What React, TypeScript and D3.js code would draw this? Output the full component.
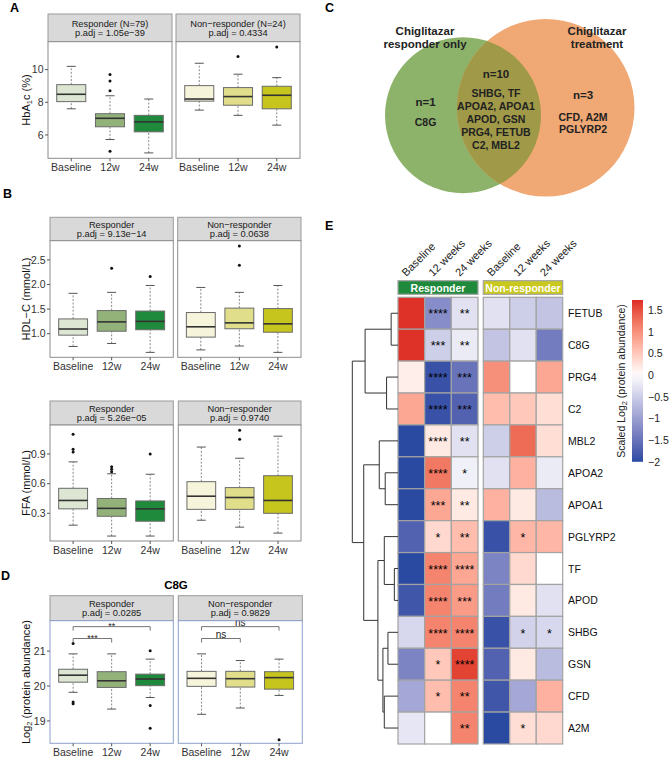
import React from "react";
import * as d3 from "d3";

const FONT = "'Liberation Sans', Arial, Helvetica, sans-serif";

// ---------- Box plot data ----------
const timepoints = ["Baseline", "12w", "24w"];
const respColors = ["#DCE6D2", "#92B27A", "#1F8A3B"];
const nonRespColors = ["#F6F4DA", "#E0DE8A", "#C6C51E"];

// [low whisker, q1, median, q3, high whisker]
const hba1cResp = [[7.6, 8.04, 8.49, 9.08, 10.2], [5.72, 6.5, 7.02, 7.3, 8.4], [4.9, 6.19, 6.8, 7.2, 8.2]];
const hba1cRespOut = [[], [9.7, 9.3, 8.7, 5.0], []];
const hba1cNon = [[7.52, 8.07, 8.2, 9.02, 10.39], [7.2, 7.82, 8.35, 8.9, 9.72], [6.6, 7.6, 8.43, 8.98, 9.51]];
const hba1cNonOut = [[], [10.8], [11.39]];

const hdlResp = [[0.74, 0.97, 1.095, 1.3, 1.82], [0.8, 1.05, 1.24, 1.47, 1.84], [0.62, 1.08, 1.25, 1.46, 1.98]];
const hdlRespOut = [[], [2.33], [2.16]];
const hdlNon = [[0.67, 0.93, 1.14, 1.43, 1.94], [0.75, 1.1, 1.22, 1.52, 1.84], [0.62, 1.03, 1.2, 1.51, 1.98]];
const hdlNonOut = [[], [2.78, 2.39], []];

const ffaResp = [[0.18, 0.345, 0.43, 0.553, 0.82], [0.07, 0.27, 0.35, 0.45, 0.7], [0.07, 0.22, 0.345, 0.425, 0.695]];
const ffaRespOut = [[1.1, 0.947, 0.92], [0.772, 0.745, 0.72], [0.9]];
const ffaNon = [[0.23, 0.34, 0.473, 0.62, 0.97], [0.16, 0.34, 0.46, 0.56, 0.857], [0.1, 0.3, 0.43, 0.68, 1.08]];
const ffaNonOut = [[], [1.14, 1.05], []];

const c8gResp = [[19.82, 20.11, 20.31, 20.48, 20.92], [19.34, 19.96, 20.15, 20.41, 20.92], [19.67, 20.01, 20.2, 20.34, 20.77]];
const c8gRespOut = [[21.22, 19.54, 19.49], [], [21.01, 19.44, 18.79]];
const c8gNon = [[19.19, 19.99, 20.22, 20.42, 20.92], [19.37, 19.97, 20.21, 20.42, 20.73], [19.73, 19.91, 20.24, 20.41, 20.77]];
const c8gNonOut = [[], [], [18.46]];

const c8gRespBrackets = [{ a: 0, b: 2, level: 21.7, label: "**" }, { a: 0, b: 1, level: 21.36, label: "***" }];
const c8gNonBrackets = [{ a: 0, b: 2, level: 21.7, label: "ns" }, { a: 0, b: 1, level: 21.36, label: "ns" }];

const stripA = [["Responder (N=79)", "p.adj =  1.05e\u221239"], ["Non\u2212responder (N=24)", "p.adj =  0.4334"]];
const stripHDL = [["Responder", "p.adj =  9.13e\u221214"], ["Non\u2212responder", "p.adj =  0.0638"]];
const stripFFA = [["Responder", "p.adj =  5.26e\u221205"], ["Non\u2212responder", "p.adj =  0.9740"]];
const stripD = [["Responder", "p.adj =  0.0285"], ["Non\u2212responder", "p.adj =  0.9829"]];

const ticksA = [6, 8, 10];
const ticksHDL = [1.0, 1.5, 2.0, 2.5];
const ticksFFA = [0.3, 0.6, 0.9];
const ticksD = [19, 20, 21];

// ---------- Venn data ----------
const vennLeftTitle = ["Chiglitazar", "responder only"];
const vennRightTitle = ["Chiglitazar", "treatment"];
const vennLeftOnly = ["n=1", "C8G"];
const vennShared = ["n=10", "SHBG, TF", "APOA2, APOA1", "APOD, GSN", "PRG4, FETUB", "C2, MBL2"];
const vennRightOnly = ["n=3", "CFD, A2M", "PGLYRP2"];

// ---------- Heatmap data ----------
const proteins = ["FETUB", "C8G", "PRG4", "C2", "MBL2", "APOA2", "APOA1", "PGLYRP2", "TF", "APOD", "SHBG", "GSN", "CFD", "A2M"];
const heatCols = ["Baseline", "12 weeks", "24 weeks"];
const heatResp = [
  [1.7, -1.2, -0.3], [1.7, -0.5, -0.2], [0.15, -1.9, -1.5], [0.8, -1.9, -1.7], [-2, 0.2, -0.3],
  [-2, 1.2, -0.15], [-2, 0.8, 0.2], [-1.7, 0.35, 0.6], [-2, 1.1, 0.8], [-1.85, 1.1, 0.9],
  [-0.4, 1.1, 1.1], [-1.3, 0.5, 1.6], [-0.9, 0.6, 1.1], [-0.25, 0.0, 1.1],
];
const heatNon = [
  [-0.3, -0.5, -0.6], [-0.6, -0.3, -1.4], [1.0, 0.0, 0.8], [0.6, 0.5, 0.3], [-0.5, 1.3, 0.3],
  [-0.3, 0.7, -0.2], [0.7, 0.2, -0.7], [-1.9, 0.65, 0.65], [-1.3, 0.35, 0.0], [-1.4, 0.2, -0.3],
  [-1.9, -0.45, -0.4], [-1.7, 0.2, -0.7], [-1.85, -0.9, 0.7], [-2.0, 0.3, 0.35],
];
const starsResp = [
  ["", "****", "**"], ["", "***", "**"], ["", "****", "***"], ["", "****", "***"], ["", "****", "**"],
  ["", "****", "*"], ["", "***", "**"], ["", "*", "**"], ["", "****", "****"], ["", "****", "***"],
  ["", "****", "****"], ["", "*", "****"], ["", "*", "**"], ["", "", "**"],
];
const starsNon = [
  ["", "", ""], ["", "", ""], ["", "", ""], ["", "", ""], ["", "", ""],
  ["", "", ""], ["", "", ""], ["", "*", ""], ["", "", ""], ["", "", ""],
  ["", "*", "*"], ["", "", ""], ["", "", ""], ["", "*", ""],
];
const legendTicks = [1.5, 1, 0.5, 0, -0.5, -1, -1.5, -2];

type DNode = { h: number; c: (DNode | string)[] };
const dendroTree: DNode = {
  h: 10,
  c: [
    { h: 7.2, c: [{ h: 1.5, c: ["FETUB", "C8G"] }, { h: 2.5, c: ["PRG4", "C2"] }] },
    {
      h: 7.5,
      c: [
        { h: 4.1, c: ["MBL2", { h: 2.8, c: ["APOA2", "APOA1"] }] },
        {
          h: 4.4,
          c: [
            { h: 3.0, c: ["PGLYRP2", { h: 0.8, c: ["TF", "APOD"] }] },
            { h: 3.3, c: [{ h: 2.2, c: ["SHBG", "GSN"] }, { h: 3.0, c: ["CFD", "A2M"] }] },
          ],
        },
      ],
    },
  ],
};

// ---------- Components ----------
type Bracket = { a: number; b: number; level: number; label: string };

function Facet(props: {
  x0: number; x1: number; stripTop: number; top: number; bot: number; domain: number[];
  stats: number[][]; outs: number[][]; colors: string[]; strip: string[];
  ticks?: number[]; fmt?: (n: number) => string; border: string; brackets?: Bracket[];
}) {
  const { x0, x1, stripTop, top, bot, domain, stats, outs, colors, strip, ticks, fmt, border, brackets } = props;
  const x = d3.scalePoint<string>().domain(timepoints).range([x0, x1]).padding(0.6);
  const y = d3.scaleLinear().domain(domain).range([bot, top]);
  const bw = x.step() * 0.75;
  const cap = 9;
  const mid = (stripTop + top) / 2;
  return (
    <g>
      <rect x={x0} y={stripTop} width={x1 - x0} height={top - stripTop} fill="#D9D9D9" stroke="#9A9A9A" strokeWidth={1} />
      <text x={(x0 + x1) / 2} y={mid - 1.3} textAnchor="middle" fontSize={9.3} fill="#1A1A1A">{strip[0]}</text>
      <text x={(x0 + x1) / 2} y={mid + 8.2} textAnchor="middle" fontSize={9.3} fill="#1A1A1A">{strip[1]}</text>
      <rect x={x0} y={top} width={x1 - x0} height={bot - top} fill="#fff" />
      {stats.map((s, i) => {
        const cx = x(timepoints[i])!;
        return (
          <g key={i}>
            <line x1={cx} x2={cx} y1={y(s[3])} y2={y(s[4])} stroke="#888" strokeDasharray="2,1.6" />
            <line x1={cx} x2={cx} y1={y(s[0])} y2={y(s[1])} stroke="#888" strokeDasharray="2,1.6" />
            <line x1={cx - cap / 2} x2={cx + cap / 2} y1={y(s[4])} y2={y(s[4])} stroke="#555" />
            <line x1={cx - cap / 2} x2={cx + cap / 2} y1={y(s[0])} y2={y(s[0])} stroke="#555" />
            <rect x={cx - bw / 2} y={y(s[3])} width={bw} height={y(s[1]) - y(s[3])} fill={colors[i]} stroke="#6A6A6A" strokeWidth={1} />
            <line x1={cx - bw / 2} x2={cx + bw / 2} y1={y(s[2])} y2={y(s[2])} stroke="#333" strokeWidth={1.6} />
            {outs[i].map((o, j) => (
              <circle key={j} cx={cx} cy={y(o)} r={1.5} fill="#111" />
            ))}
          </g>
        );
      })}
      {(brackets || []).map((b, i) => {
        const xa = x(timepoints[b.a])!;
        const xb = x(timepoints[b.b])!;
        const yy = y(b.level);
        const isStar = b.label.startsWith("*");
        return (
          <g key={"b" + i}>
            <path d={`M${xa},${yy + 4}V${yy}H${xb}V${yy + 4}`} fill="none" stroke="#666" strokeWidth={0.9} />
            <text x={(xa + xb) / 2} y={isStar ? yy + 2.5 : yy - 0.6} textAnchor="middle" fontSize={isStar ? 9 : 10} fill="#222">{b.label}</text>
          </g>
        );
      })}
      <rect x={x0} y={top} width={x1 - x0} height={bot - top} fill="none" stroke={border} strokeWidth={1} />
      {timepoints.map((t) => (
        <g key={t}>
          <line x1={x(t)!} x2={x(t)!} y1={bot} y2={bot + 3} stroke="#555" />
          <text x={x(t)!} y={bot + 12.5} textAnchor="middle" fontSize={10.5} fill="#333">{t}</text>
        </g>
      ))}
      {ticks && ticks.map((t) => (
        <g key={"t" + t}>
          <line x1={x0 - 3} x2={x0} y1={y(t)} y2={y(t)} stroke="#555" />
          <text x={x0 - 4.5} y={y(t) + 3.7} textAnchor="end" fontSize={10.5} fill="#333">{fmt ? fmt(t) : String(t)}</text>
        </g>
      ))}
    </g>
  );
}

function YTitle({ x, y, children }: { x: number; y: number; children: React.ReactNode }) {
  return (
    <text transform={`translate(${x},${y}) rotate(-90)`} textAnchor="middle" fontSize={11} fill="#111">{children}</text>
  );
}

function BoxRow(props: {
  left: number[]; right: number[]; stripTop: number; top: number; bot: number; domain: number[];
  resp: number[][]; respOut: number[][]; non: number[][]; nonOut: number[][]; strips: string[][];
  ticks: number[]; fmt?: (n: number) => string; border: string; rb?: Bracket[]; nb?: Bracket[];
}) {
  const p = props;
  return (
    <g>
      <Facet x0={p.left[0]} x1={p.left[1]} stripTop={p.stripTop} top={p.top} bot={p.bot} domain={p.domain}
        stats={p.resp} outs={p.respOut} colors={respColors} strip={p.strips[0]} ticks={p.ticks} fmt={p.fmt} border={p.border} brackets={p.rb} />
      <Facet x0={p.right[0]} x1={p.right[1]} stripTop={p.stripTop} top={p.top} bot={p.bot} domain={p.domain}
        stats={p.non} outs={p.nonOut} colors={nonRespColors} strip={p.strips[1]} border={p.border} brackets={p.nb} />
    </g>
  );
}

function Venn() {
  const g = { cx: 463, cy: 115.3, r: 78 };
  const o = { cx: 545.7, cy: 107.8, r: 88.8 };
  const tc = "#222";
  return (
    <g>
      <defs>
        <clipPath id="greenClip"><circle cx={g.cx} cy={g.cy} r={g.r} /></clipPath>
      </defs>
      <circle cx={g.cx} cy={g.cy} r={g.r} fill="#8DB36B" />
      <circle cx={o.cx} cy={o.cy} r={o.r} fill="#F0A874" />
      <circle cx={o.cx} cy={o.cy} r={o.r} fill="#A09A48" clipPath="url(#greenClip)" />
      {vennLeftTitle.map((t, i) => (
        <text key={t} x={425} y={35 + i * 12.5} textAnchor="middle" fontSize={11.5} fontWeight="bold" fill={tc}>{t}</text>
      ))}
      {vennRightTitle.map((t, i) => (
        <text key={t} x={597} y={35 + i * 12.5} textAnchor="middle" fontSize={11.5} fontWeight="bold" fill={tc}>{t}</text>
      ))}
      <text x={425.5} y={106} textAnchor="middle" fontSize={11.5} fontWeight="bold" fill={tc}>{vennLeftOnly[0]}</text>
      <text x={425.5} y={126} textAnchor="middle" fontSize={10.5} fontWeight="bold" fill={tc}>{vennLeftOnly[1]}</text>
      <text x={496} y={78} textAnchor="middle" fontSize={11.5} fontWeight="bold" fill={tc}>{vennShared[0]}</text>
      {vennShared.slice(1).map((t, i) => (
        <text key={t} x={496} y={97 + i * 13} textAnchor="middle" fontSize={10.5} fontWeight="bold" fill={tc}>{t}</text>
      ))}
      <text x={583} y={99} textAnchor="middle" fontSize={11.5} fontWeight="bold" fill={tc}>{vennRightOnly[0]}</text>
      <text x={583} y={121} textAnchor="middle" fontSize={10.5} fontWeight="bold" fill={tc}>{vennRightOnly[1]}</text>
      <text x={583} y={133} textAnchor="middle" fontSize={10.5} fontWeight="bold" fill={tc}>{vennRightOnly[2]}</text>
    </g>
  );
}

function Heatmap() {
  const rows = d3.scaleBand<string>().domain(proteins).range([297.3, 744]);
  const colR = d3.scaleBand<string>().domain(heatCols).range([398, 478]);
  const colN = d3.scaleBand<string>().domain(heatCols).range([483.3, 562.7]);
  const color = d3.scaleLinear<string>().domain([-2, 0, 1.75]).range(["#2A4AA2", "#FFFFFF", "#DC2622"]).interpolate(d3.interpolateLab).clamp(true);
  const legY = d3.scaleLinear().domain([-2, 1.5]).range([461.8, 309.9]);
  const legMax = legY.invert(300);
  const hx = d3.scaleLinear().domain([0, 10]).range([398, 352.3]);

  const root = d3.hierarchy<any>(dendroTree, (d: any) => (typeof d === "string" ? null : d.c));
  const posY = new Map<any, number>();
  root.eachAfter((n: any) => {
    if (!n.children) posY.set(n, rows(n.data)! + rows.bandwidth() / 2);
    else posY.set(n, d3.mean(n.children, (c: any) => posY.get(c)!)!);
  });
  const nodeX = (n: any) => (n.children ? hx(n.data.h) : hx(0));
  const dendroPaths: string[] = [];
  root.each((n: any) => {
    if (!n.children) return;
    const [c1, c2] = n.children;
    const xn = nodeX(n);
    dendroPaths.push(`M${nodeX(c1)},${posY.get(c1)}H${xn}V${posY.get(c2)}H${nodeX(c2)}`);
  });

  const gradStops = d3.range(0, 21).map((i) => {
    const v = legMax - (i / 20) * (legMax + 2);
    return { off: (i / 20) * 100, c: color(v) };
  });

  const block = (vals: number[][], stars: string[][], col: d3.ScaleBand<string>, key: string) => (
    <g key={key}>
      {proteins.map((p, r) =>
        heatCols.map((c, j) => (
          <g key={p + c}>
            <rect x={col(c)!} y={rows(p)!} width={col.bandwidth()} height={rows.bandwidth()} fill={color(vals[r][j])} stroke="#A3A3A3" strokeWidth={1.2} />
            {stars[r][j] && (
              <text x={col(c)! + col.bandwidth() / 2} y={rows(p)! + rows.bandwidth() / 2 + 5.2} textAnchor="middle" fontSize={12.5} fill="#000">{stars[r][j]}</text>
            )}
          </g>
        ))
      )}
    </g>
  );

  return (
    <g>
      <defs>
        <linearGradient id="legGrad" x1="0" y1="0" x2="0" y2="1">
          {gradStops.map((s, i) => <stop key={i} offset={`${s.off}%`} stopColor={s.c} />)}
        </linearGradient>
      </defs>
      {heatCols.map((c) => (
        <text key={"cr" + c} transform={`translate(${colR(c)! + colR.bandwidth() / 2 - 5},277) rotate(-45)`} fontSize={11} fill="#222">{c}</text>
      ))}
      {heatCols.map((c) => (
        <text key={"cn" + c} transform={`translate(${colN(c)! + colN.bandwidth() / 2 - 5},277) rotate(-45)`} fontSize={11} fill="#222">{c}</text>
      ))}
      <rect x={398} y={280.7} width={80} height={13.6} fill="#1F8A3B" stroke="#A3A3A3" strokeWidth={1.2} />
      <text x={438} y={291.5} textAnchor="middle" fontSize={10.5} fontWeight="bold" fill="#fff">Responder</text>
      <rect x={483.3} y={280.7} width={79.4} height={13.6} fill="#C9C81E" stroke="#A3A3A3" strokeWidth={1.2} />
      <text x={523} y={291.5} textAnchor="middle" fontSize={10.5} fontWeight="bold" fill="#fff">Non-responder</text>
      {block(heatResp, starsResp, colR, "r")}
      {block(heatNon, starsNon, colN, "n")}
      {proteins.map((p) => (
        <text key={"l" + p} x={568} y={rows(p)! + rows.bandwidth() / 2 + 4} fontSize={10.5} fill="#111">{p}</text>
      ))}
      {dendroPaths.map((d, i) => <path key={i} d={d} fill="none" stroke="#333" strokeWidth={1} />)}
      <rect x={632} y={300} width={11} height={461.8 - 300} fill="url(#legGrad)" />
      {legendTicks.map((t) => (
        <text key={"lg" + t} x={648} y={legY(t) + 4} fontSize={10.5} fill="#222">{t < 0 ? "\u2212" + Math.abs(t) : String(t)}</text>
      ))}
      <text transform={`translate(625,381) rotate(-90)`} textAnchor="middle" fontSize={10.5} fill="#222">
        Scaled Log<tspan dy={2} fontSize={7.5}>2</tspan><tspan dy={-2}> (protein abundance)</tspan>
      </text>
    </g>
  );
}

export default function App() {
  const f1 = d3.format(".1f");
  const fd = d3.format("d");
  return (
    <svg width={669} height={759} style={{ position: "absolute", left: 0, top: 0, background: "#fff" }} fontFamily={FONT}>
      <rect width={669} height={759} fill="#fff" />
      {/* Panel labels */}
      <text x={10} y={12} fontSize={12.5} fontWeight="bold">A</text>
      <text x={3} y={198} fontSize={12.5} fontWeight="bold">B</text>
      <text x={325} y={12} fontSize={12.5} fontWeight="bold">C</text>
      <text x={1} y={580} fontSize={12.5} fontWeight="bold">D</text>
      <text x={325} y={229.5} fontSize={12.5} fontWeight="bold">E</text>

      {/* A: HbA1c */}
      <BoxRow left={[48, 172]} right={[176, 300]} stripTop={14} top={41.7} bot={158.3} domain={[4.57, 11.71]}
        resp={hba1cResp} respOut={hba1cRespOut} non={hba1cNon} nonOut={hba1cNonOut} strips={stripA}
        ticks={ticksA} fmt={fd} border="#8C8C8C" />
      <YTitle x={30} y={100}>HbA<tspan dy={2} fontSize={7.5}>1</tspan><tspan dy={-2}>c (%)</tspan></YTitle>

      {/* B: HDL-C */}
      <BoxRow left={[50, 173.3]} right={[177.7, 301]} stripTop={217.3} top={240.7} bot={357.3} domain={[0.52, 2.89]}
        resp={hdlResp} respOut={hdlRespOut} non={hdlNon} nonOut={hdlNonOut} strips={stripHDL}
        ticks={ticksHDL} fmt={f1} border="#8C8C8C" />
      <YTitle x={30} y={299}>HDL{"\u2212"}C (mmol/L)</YTitle>

      {/* B: FFA */}
      <BoxRow left={[50, 173.3]} right={[178.3, 301]} stripTop={401} top={425} bot={541} domain={[0.02, 1.193]}
        resp={ffaResp} respOut={ffaRespOut} non={ffaNon} nonOut={ffaNonOut} strips={stripFFA}
        ticks={ticksFFA} fmt={f1} border="#8C8C8C" />
      <YTitle x={30} y={483}>FFA (mmol/L)</YTitle>

      {/* D: C8G */}
      <text x={176} y={589} textAnchor="middle" fontSize={11.5} fontWeight="bold">C8G</text>
      <BoxRow left={[50, 173.3]} right={[178.3, 302.3]} stripTop={595.7} top={620.7} bot={743.3} domain={[18.36, 21.87]}
        resp={c8gResp} respOut={c8gRespOut} non={c8gNon} nonOut={c8gNonOut} strips={stripD}
        ticks={ticksD} fmt={fd} border="#8E9FCC" rb={c8gRespBrackets} nb={c8gNonBrackets} />
      <YTitle x={30} y={682}>Log<tspan dy={2} fontSize={7.5}>2</tspan><tspan dy={-2}> (protein abundance)</tspan></YTitle>

      {/* C: Venn */}
      <Venn />

      {/* E: Heatmap */}
      <Heatmap />
    </svg>
  );
}
